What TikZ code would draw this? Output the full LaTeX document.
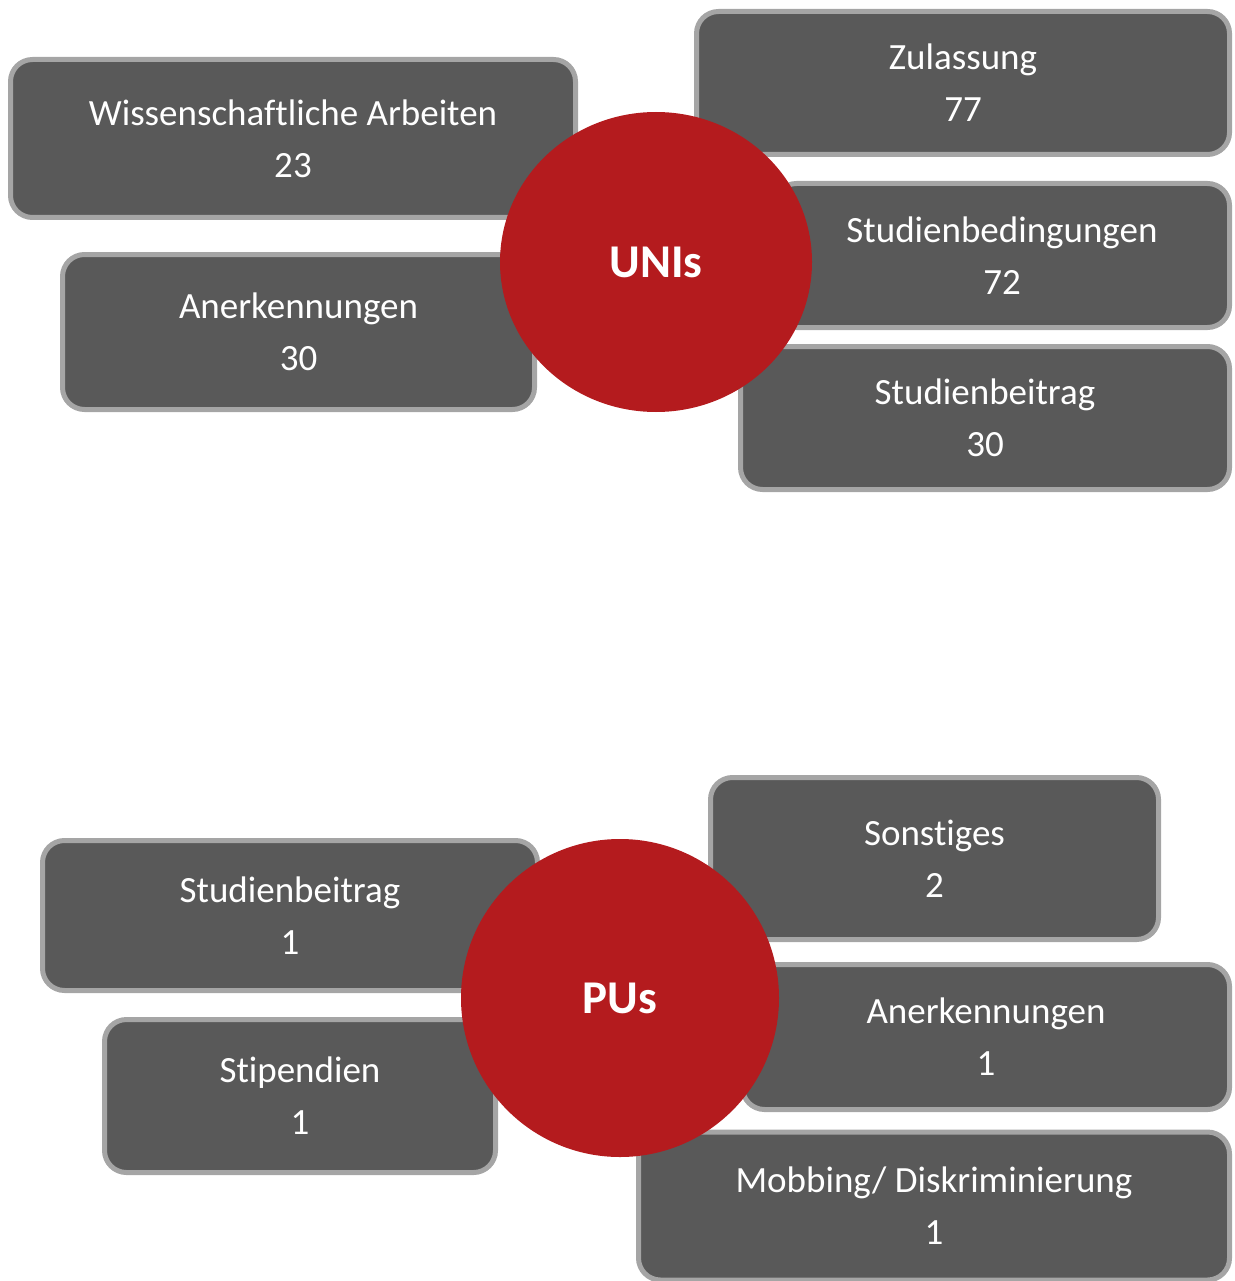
\documentclass[tikz,border=0pt]{standalone}
\usepackage{fontspec}
\setmainfont{Carlito}[Ligatures={NoCommon,NoRare}]
\usetikzlibrary{shapes.geometric}
\definecolor{boxgray}{HTML}{595959}
\definecolor{bordergray}{HTML}{A5A5A5}
\definecolor{hubred}{HTML}{B41B1E}
\tikzset{
  box/.style={draw=bordergray, line width=5pt, fill=boxgray, rounded corners=22pt,
    text=white, align=center, font=\fontsize{37}{52}\selectfont, inner sep=0pt},
  hub/.style={ellipse, fill=hubred, text=white, inner sep=0pt,
    font=\fontsize{47}{60}\selectfont\bfseries}
}
\begin{document}
\begin{tikzpicture}[x=1pt,y=-1pt]
\useasboundingbox (0,0) rectangle (1234,1281);
\clip (0,0) rectangle (1234,1281);
% UNIs group
\node[box, minimum width=565, minimum height=158] (wiss) at (293,138.5) {Wissenschaftliche Arbeiten\\23};
\node[box, minimum width=472, minimum height=155] (anerk) at (298.5,332) {Anerkennungen\\30};
\node[box, minimum width=533, minimum height=143] (zul) at (963,83) {Zulassung\\77};
\node[box, minimum width=455, minimum height=144] (stbed) at (1002,255.5) {Studienbedingungen\\72};
\node[box, minimum width=489, minimum height=143] (stbei) at (985,418) {Studienbeitrag\\30};
\node[hub, minimum width=312, minimum height=300] (unis) at (656,262) {UNIs};
% PUs group
\node[box, minimum width=495, minimum height=150] (pstbei) at (290,915.5) {Studienbeitrag\\1};
\node[box, minimum width=391, minimum height=153] (stip) at (300,1096) {Stipendien\\1};
\node[box, minimum width=448, minimum height=162] (sonst) at (934.5,858.5) {Sonstiges\\2};
\node[box, minimum width=487, minimum height=145] (panerk) at (986,1037) {Anerkennungen\\1};
\node[box, minimum width=591, minimum height=148] (mob) at (934,1206) {Mobbing/ Diskriminierung\\1};
\node[hub, minimum width=318, minimum height=318] (pus) at (620,998) {PUs};
\end{tikzpicture}
\end{document}
